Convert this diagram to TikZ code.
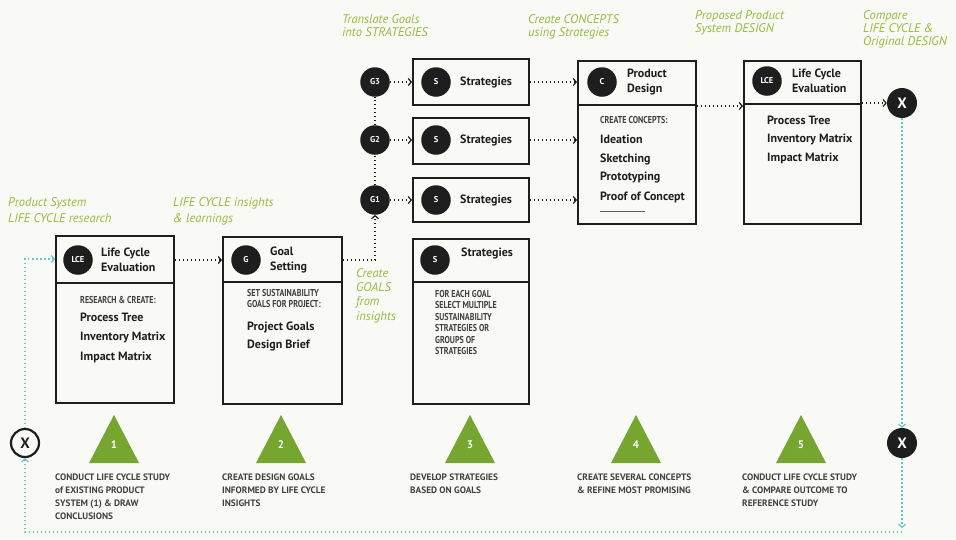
\documentclass[tikz,border=0pt]{standalone}
\usepackage{fontspec}
\setmainfont{PT Sans}
\newfontfamily\condf{PT Sans}[FakeStretch=0.8]
\usetikzlibrary{arrows.meta}
\definecolor{bgc}{RGB}{249,249,245}
\definecolor{lblgreen}{RGB}{148,188,65}
\definecolor{trigreen}{RGB}{118,165,48}
\definecolor{tealc}{RGB}{105,195,205}
\definecolor{ink}{RGB}{30,30,30}
\begin{document}
\begin{tikzpicture}[x=1pt,y=-1pt,
  box/.style={draw=ink,line width=1.6pt,anchor=north west,inner sep=0pt},
  divline/.style={draw=ink,line width=1.6pt},
  circ/.style={circle,fill=ink,text=white,minimum size=29.5pt,inner sep=0pt,font=\bfseries\fontsize{8.5}{8.5}\selectfont},
  xcirc/.style={circle,fill=ink,text=white,minimum size=30pt,inner sep=0pt,font=\bfseries\fontsize{15}{15}\selectfont},
  xcircw/.style={circle,draw=ink,line width=2.2pt,fill=bgc,text=ink,minimum size=28pt,inner sep=0pt,font=\bfseries\fontsize{15}{15}\selectfont},
  ttl/.style={anchor=west,align=left,font=\bfseries\fontsize{12}{14.5}\selectfont,text=ink,inner sep=0pt},
  item/.style={anchor=west,font=\bfseries\fontsize{12}{12}\selectfont,text=ink,inner sep=0pt},
  capt/.style={anchor=north west,align=left,font=\condf\bfseries\fontsize{10}{11.5}\selectfont,text=ink!85,inner sep=0pt},
  lbl/.style={anchor=north west,align=left,font=\itshape\fontsize{12.5}{13.5}\selectfont,text=lblgreen,inner sep=0pt},
  steptext/.style={anchor=north west,align=left,font=\bfseries\fontsize{9.3}{13}\selectfont,text=ink!85,inner sep=0pt},
  stepnum/.style={text=white,font=\bfseries\fontsize{11}{11}\selectfont,inner sep=0pt},
  conn/.style={draw=ink,line width=1.1pt,dash pattern=on 1.4pt off 2.6pt,-{Straight Barb[length=3pt,width=7pt,line width=1.2pt]}},
  plain/.style={draw=ink,line width=1.1pt,dash pattern=on 1.4pt off 2.6pt},
  tconn/.style={conn,draw=tealc},
  tplain/.style={plain,draw=tealc}
]
\fill[bgc] (0,0) rectangle (956,539);

% ---------- green labels ----------
\node[lbl,font=\itshape\fontsize{12.5}{16.5}\selectfont] (l1) at (8,197) {Product System\\LIFE CYCLE research};
\node[lbl,font=\itshape\fontsize{12.5}{16.5}\selectfont] (l2) at (173,197) {LIFE CYCLE insights\\\& learnings};
\node[lbl] (l3) at (342,14) {Translate Goals\\into STRATEGIES};
\node[lbl] (l4) at (528,14) {Create CONCEPTS\\using Strategies};
\node[lbl] (l5) at (695,10) {Proposed Product\\System DESIGN};
\node[lbl,font=\itshape\fontsize{12.5}{13}\selectfont] (l6) at (863,10) {Compare\\LIFE CYCLE \&\\Original DESIGN};
\node[lbl,font=\itshape\fontsize{12.5}{14.3}\selectfont] (l7) at (356,268) {Create\\GOALS\\from\\insights};

% ---------- box 1: LCE ----------
\node[box,minimum width=118pt,minimum height=167pt] (b1) at (55,235) {};
\draw[divline] (55,283) -- (173,283);
\node[circ] (c1) at (78,260) {LCE};
\node[ttl] (t1) at (101,260) {Life Cycle\\Evaluation};
\node[capt] (k1) at (80,296) {RESEARCH \& CREATE:};
\node[item] (i11) at (80,317) {Process Tree};
\node[item] (i12) at (80,337) {Inventory Matrix};
\node[item] (i13) at (80,357) {Impact Matrix};

% ---------- box 2: Goal setting ----------
\node[box,minimum width=119pt,minimum height=167pt] (b2) at (222,236) {};
\draw[divline] (222,282) -- (341,282);
\node[circ] (c2) at (246,260) {G};
\node[ttl] (t2) at (270,260) {Goal\\Setting};
\node[capt] (k2) at (247,289) {SET SUSTAINABILITY\\GOALS FOR PROJECT:};
\node[item] (i21) at (247,327) {Project Goals};
\node[item] (i22) at (247,345) {Design Brief};

% ---------- goal circles ----------
\node[circ] (g1) at (375,200) {G1};
\node[circ] (g2) at (375,140) {G2};
\node[circ] (g3) at (375,82) {G3};

% ---------- strategy boxes ----------
\node[box,minimum width=116pt,minimum height=46pt] (s3) at (412,58) {};
\node[circ] (sc3) at (436,82) {S};
\node[ttl] (st3) at (460,82) {Strategies};
\node[box,minimum width=116pt,minimum height=46pt] (s2) at (412,117) {};
\node[circ] (sc2) at (436,140) {S};
\node[ttl] (st2) at (460,140) {Strategies};
\node[box,minimum width=116pt,minimum height=44pt] (s1) at (412,177) {};
\node[circ] (sc1) at (436,200) {S};
\node[ttl] (st1) at (460,200) {Strategies};

% ---------- box 3: strategies detail ----------
\node[box,minimum width=116pt,minimum height=165pt] (b3) at (412,238) {};
\draw[divline] (412,282) -- (528,282);
\node[circ] (c3) at (435,260) {S};
\node[ttl] (t3) at (461,253) {Strategies};
\node[capt] (k3) at (435,290) {FOR EACH GOAL\\SELECT MULTIPLE\\SUSTAINABILITY\\STRATEGIES OR\\GROUPS OF\\STRATEGIES};

% ---------- box 4: product design ----------
\node[box,minimum width=118pt,minimum height=163pt] (b4) at (577,60) {};
\draw[divline] (577,105) -- (695,105);
\node[circ] (c4) at (602,82) {C};
\node[ttl] (t4) at (627,82) {Product\\Design};
\node[capt] (k4) at (600,116) {CREATE CONCEPTS:};
\node[item] (i41) at (600,139) {Ideation};
\node[item] (i42) at (600,159) {Sketching};
\node[item] (i43) at (600,178) {Prototyping};
\node[item] (i44) at (600,197) {Proof of Concept};
\draw[ink!70,line width=0.6pt] (600,211) -- (645,211);

% ---------- box 5: LCE ----------
\node[box,minimum width=117pt,minimum height=163pt] (b5) at (743,60) {};
\draw[divline] (743,104) -- (860,104);
\node[circ] (c5) at (767,81) {LCE};
\node[ttl] (t5) at (792,81) {Life Cycle\\Evaluation};
\node[item] (i51) at (767,120) {Process Tree};
\node[item] (i52) at (767,139) {Inventory Matrix};
\node[item] (i53) at (767,158) {Impact Matrix};

% ---------- X circles ----------
\node[xcirc] (xt) at (902,103) {X};
\node[xcirc] (xr) at (902,443) {X};
\node[xcircw] (xl) at (25,443) {X};

% ---------- connectors ----------
\coordinate (j1) at (375,260);
\coordinate (dv) at (600,106);
\draw[conn] (b1.east |- c1) -- (b2.west |- c1);
\draw[conn] (b2.east |- c2) -- (j1) -- (g1.south);
\draw[plain] (g1.north) -- (g2.south);
\draw[plain] (g2.north) -- (g3.south);
\draw[conn] (g3.east) -- (s3.west |- g3);
\draw[conn] (g2.east) -- (s2.west |- g2);
\draw[conn] (g1.east) -- (s1.west |- g1);
\draw[conn] (s3.east |- g3) -- (b4.west |- g3);
\draw[conn] (s2.east |- g2) -- (b4.west |- g2);
\draw[conn] (s1.east |- g1) -- (b4.west |- g1);
\draw[conn] (b4.east |- dv) -- (b5.west |- dv);
\draw[conn] (b5.east |- xt) -- (xt.west);

\coordinate (cb) at (902,528);
\coordinate (cbr) at (902,532);
\coordinate (cbl) at (25,532);
\coordinate (cl) at (25,259);
\draw[tconn] (xt.south) -- (xr.north);
\draw[tconn] (xr.south) -- (cb);
\draw[tconn] (cbr) -- (cbl) -- (xl.south);
\draw[tconn] (xl.north) -- (cl) -- (b1.west |- cl);

% ---------- steps ----------
\foreach \n/\cx in {1/114,2/281,3/470,4/636,5/801}{
  \fill[trigreen] (\cx-25,463) -- (\cx,415) -- (\cx+25,463) -- cycle;
  \node[stepnum] (n\n) at (\cx,445) {\n};
}
\node[steptext] (p1) at (55,474) {CONDUCT LIFE CYCLE STUDY\\of EXISTING PRODUCT\\SYSTEM (1) \& DRAW\\CONCLUSIONS};
\node[steptext] (p2) at (222,474) {CREATE DESIGN GOALS\\INFORMED BY LIFE CYCLE\\INSIGHTS};
\node[steptext] (p3) at (410,474) {DEVELOP STRATEGIES\\BASED ON GOALS};
\node[steptext] (p4) at (577,474) {CREATE SEVERAL CONCEPTS\\\& REFINE MOST PROMISING};
\node[steptext] (p5) at (742,474) {CONDUCT LIFE CYCLE STUDY\\\& COMPARE OUTCOME TO\\REFERENCE STUDY};
\end{tikzpicture}
\end{document}
